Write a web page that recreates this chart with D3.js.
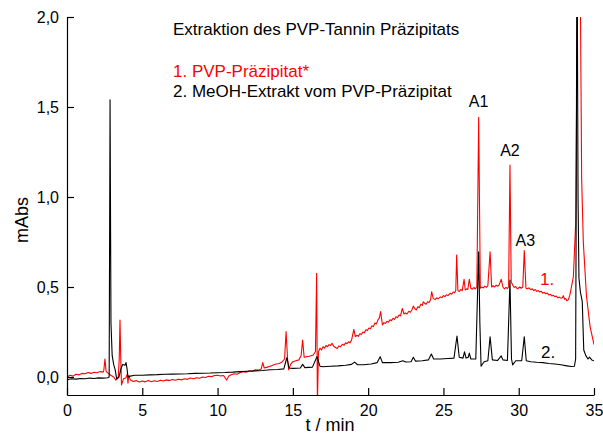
<!DOCTYPE html>
<html>
<head>
<meta charset="utf-8">
<script src="https://cdn.jsdelivr.net/npm/d3@7"></script>
<style>
  html, body { margin: 0; padding: 0; background: #fff; }
  svg { display: block; font-family: "Liberation Sans", Arial, sans-serif; }
</style>
</head>
<body>
<svg id="chart" width="603" height="434"></svg>
<script>
// Chromatogram: PVP-Präzipitat (red) and its MeOH-Extrakt (black)
const chartTitle = "Extraktion des PVP-Tannin Präzipitats";
const seriesNames = ["1. PVP-Präzipitat*", "2. MeOH-Extrakt vom PVP-Präzipitat"];
const peakLabels = ["A1", "A2", "A3"];
const peakTimes = [27.34, 29.42, 30.37];
const xTicksMajor = [0, 5, 10, 15, 20, 25, 30, 35];
const yTicksMajor = [0, 0.5, 1.0, 1.5, 2.0];

// Trace 1: PVP-Präzipitat, [retention time in min, absorbance]
const redTrace = [
  [0.0, 0.0], [0.2, 0.01], [0.4, 0.005], [0.6, 0.015], [0.8, 0.012], [1.0, 0.02], [1.2, 0.018],
  [1.4, 0.025], [1.6, 0.02], [1.8, 0.026], [2.0, 0.024], [2.2, 0.03], [2.4, 0.027], [2.45, 0.04],
  [2.52, 0.10], [2.6, 0.03], [2.75, 0.02], [2.9, 0.01], [3.1, 0.0], [3.25, -0.017], [3.4, -0.005],
  [3.47, 0.1], [3.52, 0.317], [3.57, 0.1], [3.62, -0.044], [3.75, -0.01], [3.9, -0.006], [4.0, 0.015],
  [4.05, -0.035], [4.1, 0.01], [4.2, -0.015], [4.4, -0.025], [4.6, -0.02], [4.8, -0.028], [5.0, -0.022],
  [5.2, -0.027], [5.4, -0.02], [5.6, -0.026], [5.8, -0.021], [6.0, -0.025], [6.2, -0.018], [6.4, -0.022],
  [6.6, -0.016], [6.8, -0.02], [7.0, -0.014], [7.2, -0.018], [7.4, -0.012], [7.6, -0.016], [7.8, -0.01],
  [8.0, -0.013], [8.2, -0.006], [8.4, -0.01], [8.6, -0.004], [8.8, -0.007], [9.0, 0.0], [9.2, -0.003],
  [9.4, 0.004], [9.6, 0.002], [9.8, 0.008], [10.0, 0.01], [10.2, 0.006], [10.4, 0.008], [10.6, -0.017],
  [10.75, 0.005], [10.9, 0.012], [11.1, 0.018], [11.3, 0.015], [11.5, 0.025], [11.7, 0.03], [11.9, 0.026],
  [12.1, 0.035], [12.3, 0.032], [12.5, 0.04], [12.7, 0.038], [12.9, 0.045], [13.0, 0.08], [13.1, 0.05],
  [13.3, 0.055], [13.5, 0.06], [13.7, 0.067], [13.9, 0.072], [14.1, 0.075], [14.3, 0.085], [14.45, 0.1],
  [14.55, 0.252], [14.65, 0.1], [14.72, 0.04], [14.85, 0.07], [15.0, 0.085], [15.2, 0.09], [15.4, 0.095],
  [15.55, 0.12], [15.65, 0.205], [15.75, 0.11], [15.9, 0.113], [16.1, 0.115], [16.35, 0.122], [16.5, 0.14],
  [16.58, 0.576], [16.63, -0.15], [16.7, 0.14], [16.8, 0.16], [16.9, 0.15], [17.0, 0.168], [17.1, 0.16],
  [17.2, 0.175], [17.3, 0.168], [17.4, 0.18], [17.5, 0.175], [17.6, 0.187], [17.7, 0.172], [17.8, 0.165],
  [17.95, 0.159], [18.05, 0.172], [18.15, 0.168], [18.3, 0.182], [18.4, 0.176], [18.5, 0.19], [18.6, 0.185],
  [18.7, 0.196], [18.8, 0.19], [18.9, 0.205], [19.05, 0.265], [19.15, 0.224], [19.25, 0.232], [19.35, 0.226],
  [19.45, 0.24], [19.55, 0.236], [19.65, 0.25], [19.75, 0.246], [19.85, 0.262], [19.95, 0.258], [20.05, 0.272],
  [20.15, 0.268], [20.25, 0.285], [20.35, 0.28], [20.45, 0.3], [20.55, 0.295], [20.65, 0.317], [20.75, 0.33],
  [20.83, 0.363], [20.95, 0.289], [21.05, 0.302], [21.15, 0.298], [21.25, 0.31], [21.35, 0.305], [21.45, 0.318],
  [21.55, 0.313], [21.65, 0.326], [21.75, 0.32], [21.85, 0.335], [21.95, 0.33], [22.05, 0.345], [22.15, 0.34],
  [22.27, 0.381], [22.38, 0.35], [22.48, 0.356], [22.58, 0.35], [22.7, 0.365], [22.8, 0.36], [22.9, 0.372],
  [23.0, 0.394], [23.1, 0.38], [23.2, 0.372], [23.3, 0.39], [23.4, 0.385], [23.5, 0.405], [23.6, 0.398],
  [23.66, 0.418], [23.75, 0.41], [23.85, 0.404], [23.95, 0.418], [24.05, 0.414], [24.15, 0.43], [24.22, 0.474],
  [24.32, 0.437], [24.45, 0.43], [24.55, 0.44], [24.65, 0.434], [24.8, 0.445], [24.9, 0.44], [25.0, 0.452],
  [25.1, 0.447], [25.2, 0.457], [25.3, 0.452], [25.44, 0.465], [25.55, 0.46], [25.65, 0.472], [25.75, 0.468],
  [25.82, 0.48], [25.88, 0.678], [25.96, 0.48], [26.05, 0.475], [26.15, 0.486], [26.25, 0.48], [26.37, 0.543],
  [26.45, 0.483], [26.55, 0.49], [26.62, 0.486], [26.72, 0.543], [26.82, 0.493], [26.92, 0.488], [27.02, 0.497],
  [27.12, 0.49], [27.22, 0.5], [27.34, 1.443], [27.45, 0.493], [27.55, 0.5], [27.65, 0.495], [27.75, 0.505],
  [27.85, 0.498], [27.95, 0.507], [28.1, 0.696], [28.2, 0.5], [28.3, 0.507], [28.4, 0.5], [28.5, 0.51],
  [28.6, 0.504], [28.7, 0.512], [28.84, 0.543], [28.95, 0.5], [29.05, 0.49], [29.15, 0.498], [29.25, 0.492],
  [29.33, 0.5], [29.42, 1.178], [29.5, 0.53], [29.6, 0.51], [29.7, 0.498], [29.8, 0.503], [29.9, 0.49],
  [29.97, 0.493], [30.07, 0.5], [30.17, 0.493], [30.27, 0.5], [30.37, 0.702], [30.48, 0.493], [30.58, 0.49],
  [30.68, 0.495], [30.8, 0.485], [30.9, 0.49], [31.0, 0.48], [31.1, 0.486], [31.2, 0.476], [31.3, 0.48],
  [31.4, 0.472], [31.5, 0.476], [31.6, 0.466], [31.7, 0.47], [31.8, 0.462], [31.9, 0.466], [32.0, 0.456],
  [32.1, 0.46], [32.2, 0.45], [32.3, 0.454], [32.4, 0.446], [32.5, 0.45], [32.6, 0.44], [32.7, 0.444],
  [32.8, 0.438], [32.9, 0.44], [32.96, 0.452], [33.05, 0.432], [33.12, 0.436], [33.19, 0.424], [33.3, 0.43],
  [33.4, 0.456], [33.63, 0.557], [33.78, 0.85], [33.9, 2.1], [34.0, 3.0], [34.08, 2.3], [34.18, 1.1],
  [34.29, 0.75], [34.5, 0.45], [34.74, 0.28], [35.0, 0.18]
];

// Trace 2: MeOH-Extrakt vom PVP-Präzipitat
const blackTrace = [
  [0.0, -0.015], [0.3, -0.01], [0.6, -0.012], [0.9, -0.008], [1.2, -0.01], [1.5, -0.006], [1.8, -0.008],
  [2.1, -0.005], [2.4, -0.006], [2.7, -0.004], [2.8, 0.0], [2.86, 1.54], [2.92, 0.3], [3.0, 0.12],
  [3.1, 0.07], [3.2, 0.04], [3.3, -0.01], [3.45, 0.0], [3.6, 0.05], [3.7, 0.07], [3.85, 0.065],
  [3.92, 0.08], [3.98, 0.05], [4.05, 0.0], [4.2, 0.005], [4.5, 0.01], [5.0, 0.01], [5.5, 0.012],
  [6.0, 0.013], [6.5, 0.015], [7.0, 0.016], [7.5, 0.017], [8.0, 0.018], [8.5, 0.02], [9.0, 0.021],
  [9.5, 0.022], [10.0, 0.024], [10.5, 0.025], [11.0, 0.027], [11.5, 0.03], [12.0, 0.032], [12.5, 0.034],
  [13.0, 0.036], [13.5, 0.04], [14.0, 0.042], [14.4, 0.045], [14.6, 0.107], [14.75, 0.05], [15.0, 0.048],
  [15.5, 0.05], [15.65, 0.07], [15.8, 0.052], [16.3, 0.055], [16.6, 0.113], [16.8, 0.06], [17.0, 0.057],
  [17.5, 0.06], [18.0, 0.062], [18.5, 0.065], [18.9, 0.07], [19.1, 0.083], [19.3, 0.068], [19.7, 0.068],
  [20.2, 0.072], [20.6, 0.08], [20.8, 0.113], [20.95, 0.08], [21.5, 0.08], [22.0, 0.082], [22.3, 0.09],
  [22.5, 0.083], [22.85, 0.085], [23.0, 0.11], [23.15, 0.088], [23.6, 0.09], [24.0, 0.095], [24.2, 0.128],
  [24.35, 0.1], [24.8, 0.1], [25.3, 0.103], [25.7, 0.105], [25.9, 0.228], [26.05, 0.11], [26.3, 0.105],
  [26.4, 0.14], [26.5, 0.105], [26.65, 0.11], [26.72, 0.133], [26.82, 0.1], [27.15, 0.1], [27.34, 0.696],
  [27.42, 0.3], [27.5, 0.06], [27.7, 0.085], [27.95, 0.09], [28.1, 0.224], [28.25, 0.095], [28.6, 0.092],
  [28.84, 0.117], [28.95, 0.095], [29.25, 0.092], [29.42, 0.539], [29.52, 0.1], [29.6, 0.067], [29.8, 0.09],
  [30.2, 0.09], [30.37, 0.224], [30.5, 0.09], [30.8, 0.085], [31.2, 0.082], [31.6, 0.08], [32.0, 0.075],
  [32.4, 0.072], [32.8, 0.068], [33.2, 0.062], [33.5, 0.058], [33.7, 0.06], [33.78, 0.1], [33.82, 1.0],
  [33.87, 2.6], [33.94, 1.0], [34.0, 0.55], [34.1, 0.47], [34.22, 0.42], [34.32, 0.15], [34.45, 0.12],
  [34.6, 0.1], [34.7, 0.11], [34.85, 0.095], [35.0, 0.09]
];

const svg = d3.select("#chart");
const x = d3.scaleLinear().domain([0, 35]).range([67, 594]);
const y = d3.scaleLinear().domain([-0.1, 2.0]).range([395, 17]);
const fmtComma = d => d3.format(".1f")(d).replace(".", ",");

svg.append("defs").append("clipPath").attr("id", "plotClip")
  .append("rect")
  .attr("x", x(0)).attr("y", y(2.0))
  .attr("width", x(35) - x(0)).attr("height", y(-0.1) - y(2.0));

const line = d3.line().x(d => x(d[0])).y(d => y(d[1]));

const plot = svg.append("g").attr("clip-path", "url(#plotClip)");
plot.append("path").datum(redTrace).attr("d", line)
  .attr("fill", "none").attr("stroke", "#ff0000").attr("stroke-width", 1.1)
  .attr("stroke-linejoin", "round");
plot.append("path").datum(blackTrace).attr("d", line)
  .attr("fill", "none").attr("stroke", "#000").attr("stroke-width", 1.1)
  .attr("stroke-linejoin", "round");

// Axes with inward ticks
const xMinor = d3.range(0, 36, 1);
const yMinor = d3.range(-0.1, 2.05, 0.1).map(v => +v.toFixed(1));

const gx = svg.append("g").attr("transform", `translate(0,${y(-0.1)})`);
gx.call(d3.axisBottom(x).tickValues(xMinor).tickSize(-4).tickSizeOuter(0).tickFormat(""));
gx.call(d3.axisBottom(x).tickValues(xTicksMajor).tickSize(-7).tickSizeOuter(0).tickPadding(10).tickFormat(d3.format("d")));

const gy = svg.append("g").attr("transform", `translate(${x(0)},0)`);
gy.call(d3.axisLeft(y).tickValues(yMinor).tickSize(-4).tickSizeOuter(0).tickFormat(""));
gy.call(d3.axisLeft(y).tickValues(yTicksMajor).tickSize(-7).tickSizeOuter(0).tickPadding(8).tickFormat(fmtComma));

svg.selectAll(".domain, .tick line").attr("stroke", "#000").attr("stroke-width", 1.2);
svg.selectAll(".tick text").attr("font-size", 16).attr("fill", "#000")
  .attr("font-family", "Liberation Sans, Arial, sans-serif");

// Axis titles
svg.append("text").attr("x", 330).attr("y", 431).attr("text-anchor", "middle")
  .attr("font-size", 18).text("t / min");
svg.append("text").attr("transform", "translate(28,220) rotate(-90)")
  .attr("text-anchor", "middle").attr("font-size", 18).text("mAbs");

// Title and legend text
svg.append("text").attr("x", 173).attr("y", 35).attr("font-size", 17).text(chartTitle);
svg.append("text").attr("x", 173).attr("y", 77).attr("font-size", 17).attr("fill", "#ff0000").text(seriesNames[0]);
svg.append("text").attr("x", 173).attr("y", 97).attr("font-size", 17).attr("fill", "#000").text(seriesNames[1]);

// Peak labels
const peakLabelY = [107, 156, 246];
peakLabels.forEach((lab, i) => {
  svg.append("text").attr("x", x(peakTimes[i]) + (i === 2 ? 1 : 0)).attr("y", peakLabelY[i])
    .attr("text-anchor", "middle").attr("font-size", 16).text(lab);
});

// Trace labels
svg.append("text").attr("x", 540).attr("y", 285).attr("font-size", 17).attr("fill", "#ff0000").text("1.");
svg.append("text").attr("x", 541).attr("y", 358).attr("font-size", 17).attr("fill", "#000").text("2.");
</script>
</body>
</html>
